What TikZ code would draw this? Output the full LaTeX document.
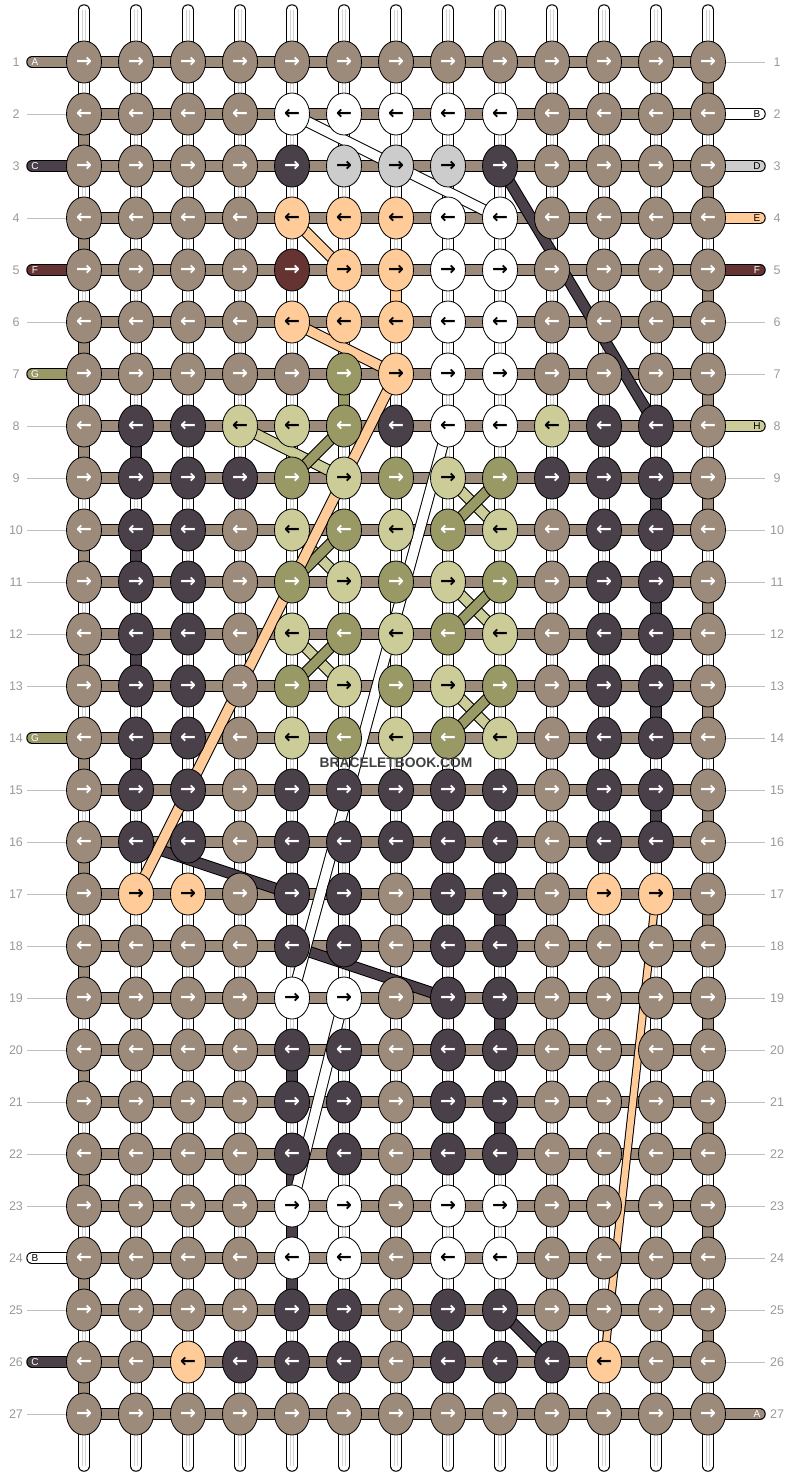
\documentclass[tikz,border=0pt]{standalone}
\usepackage{fontspec}
\setmainfont{Liberation Sans}
\newfontfamily\arrowfont{DejaVu Sans}
\usetikzlibrary{shapes.geometric}

% Thread colours
\definecolor{kb}{RGB}{156,139,122}
\definecolor{kd}{RGB}{74,64,74}
\definecolor{kg}{RGB}{204,204,204}
\definecolor{kp}{RGB}{255,204,153}
\definecolor{km}{RGB}{102,51,51}
\definecolor{ko}{RGB}{153,153,102}
\definecolor{kl}{RGB}{204,204,153}
\definecolor{rowgray}{RGB}{153,153,153}
\definecolor{wmgray}{RGB}{64,64,64}

\tikzset{
  knot/.style={ellipse, draw=black, line width=0.8pt, minimum width=35pt,
    minimum height=42pt, inner sep=0pt, font=\arrowfont\bfseries\fontsize{19}{19}\selectfont},
  knot-b/.style={knot, fill=kb, text=white},
  knot-d/.style={knot, fill=kd, text=white},
  knot-w/.style={knot, fill=white, text=black},
  knot-g/.style={knot, fill=kg, text=black},
  knot-p/.style={knot, fill=kp, text=black},
  knot-m/.style={knot, fill=km, text=white},
  knot-o/.style={knot, fill=ko, text=white},
  knot-l/.style={knot, fill=kl, text=black},
  strand/.style={draw=black, line width=1pt, double distance=9.5pt},
  pipe/.style={draw=black, line width=1pt, double=white, double distance=9.5pt, line cap=round},
  pipecore/.style={draw=gray!35, line width=0.8pt, double=white, double distance=2.4pt},
  rowline/.style={draw=gray!50, line width=0.8pt},
  rownum/.style={text=rowgray, font=\fontsize{12.5}{13}\selectfont},
  lettertag/.style={font=\fontsize{10}{10}\selectfont, inner sep=0pt}
}

\begin{document}
\begin{tikzpicture}[x=1pt, y=-1pt]
    \useasboundingbox (0,0) rectangle (792,1476);

    % Define grid points
    \foreach \r in {1,...,27}
      \foreach \c in {1,...,13}
        \coordinate (p-\r-\c) at ({32+52*\c},{10+52*\r});

    % Draw vertical strings
    \foreach \c in {1,...,13} {
      \coordinate (t-\c) at ({32+52*\c},10);
      \coordinate (u-\c) at ({32+52*\c},1466);
      \draw[pipe] (t-\c) -- (u-\c);
      \draw[pipecore] (t-\c) -- (u-\c);
    }

    % Row numbers and guide lines
    \foreach \r in {1,...,27} {
      \coordinate (lt-\r) at (27,{10+52*\r});
      \coordinate (rt-\r) at (765,{10+52*\r});
      \draw[rowline] (lt-\r) -- (p-\r-1);
      \draw[rowline] (p-\r-13) -- (rt-\r);
      \node[rownum] (ln-\r) at (16,{10+52*\r}) {\r};
      \node[rownum] (rn-\r) at (777,{10+52*\r}) {\r};
    }

    % Background string turning at the edges
    \foreach \r in {2,4,...,26} {
      \pgfmathtruncatemacro\n{\r+1}
      \draw[strand, double=kb] (p-\r-1) -- (p-\n-1);
    }
    \foreach \r in {1,3,...,25} {
      \pgfmathtruncatemacro\n{\r+1}
      \draw[strand, double=kb] (p-\r-13) -- (p-\n-13);
    }

    % Coloured vertical runs
    \foreach \c/\r/\col in {2/8/kd, 2/10/kd, 2/12/kd, 2/14/kd,
        12/9/kd, 12/11/kd, 12/13/kd, 12/15/kd,
        5/20/kd, 5/22/kd, 5/23/kd, 5/24/kd,
        9/17/kd, 9/19/kd, 9/21/kd, 6/7/ko, 7/5/kp} {
      \pgfmathtruncatemacro\n{\r+1}
      \draw[strand, double=\col] (p-\r-\c) -- (p-\n-\c);
    }

    % Rows
    \foreach \r in {1,...,27}
      \draw[strand, double=kb] (p-\r-1) -- (p-\r-13);

    % Loose ends, left
    \foreach \r/\col/\lab/\ink in {1/kb/A/white, 3/kd/C/white, 5/km/F/white,
        7/ko/G/white, 14/ko/G/white, 24/white/B/black, 26/kd/C/white} {
      \coordinate (le-\r) at (32,{10+52*\r});
      \draw[strand, double=\col, line cap=round] (le-\r) -- (p-\r-1);
      \node[lettertag, text=\ink] (la-\r) at (35,{10+52*\r}) {\lab};
    }

    % Loose ends, right
    \foreach \r/\col/\lab/\ink in {2/white/B/black, 3/kg/D/black, 4/kp/E/black,
        5/km/F/white, 8/kl/H/black, 27/kb/A/white} {
      \coordinate (re-\r) at (760,{10+52*\r});
      \draw[strand, double=\col, line cap=round] (p-\r-13) -- (re-\r);
      \node[lettertag, text=\ink] (ra-\r) at (757,{10+52*\r}) {\lab};
    }

    % Diagonal runs
    \foreach \a/\b in {p-8-4/p-9-6, p-10-5/p-11-6, p-12-5/p-13-6,
        p-9-8/p-10-9, p-11-8/p-12-9, p-13-8/p-14-9}
      \draw[strand, double=kl] (\a) -- (\b);
    \foreach \a/\b in {p-8-6/p-9-5, p-10-6/p-11-5, p-12-6/p-13-5,
        p-9-9/p-10-8, p-11-9/p-12-8, p-13-9/p-14-8}
      \draw[strand, double=ko] (\a) -- (\b);
    \foreach \a/\b in {p-3-9/p-8-12, p-16-2/p-17-5, p-18-5/p-19-8, p-25-9/p-26-10}
      \draw[strand, double=kd] (\a) -- (\b);
    \foreach \a/\b in {p-4-5/p-5-6, p-6-5/p-7-7, p-7-7/p-17-2}
      \draw[strand, double=kp] (\a) -- (\b);
    \draw[strand, double=kp, double distance=6.5pt] (p-17-12) -- (p-26-11);
    \draw[strand, double=white] (p-2-5) -- (p-3-7) -- (p-4-9);
    \draw[strand, double=white] (p-8-8) -- (p-19-5);
    \draw[strand, double=white] (p-19-6) -- (p-23-5);

    % Knots
    \foreach \r/\knots in {
        1/{b,b,b,b,b,b,b,b,b,b,b,b,b},
        2/{b,b,b,b,w,w,w,w,w,b,b,b,b},
        3/{b,b,b,b,d,g,g,g,d,b,b,b,b},
        4/{b,b,b,b,p,p,p,w,w,b,b,b,b},
        5/{b,b,b,b,m,p,p,w,w,b,b,b,b},
        6/{b,b,b,b,p,p,p,w,w,b,b,b,b},
        7/{b,b,b,b,b,o,p,w,w,b,b,b,b},
        8/{b,d,d,l,l,o,d,w,w,l,d,d,b},
        9/{b,d,d,d,o,l,o,l,o,d,d,d,b},
        10/{b,d,d,b,l,o,l,o,l,b,d,d,b},
        11/{b,d,d,b,o,l,o,l,o,b,d,d,b},
        12/{b,d,d,b,l,o,l,o,l,b,d,d,b},
        13/{b,d,d,b,o,l,o,l,o,b,d,d,b},
        14/{b,d,d,b,l,o,l,o,l,b,d,d,b},
        15/{b,d,d,b,d,d,d,d,d,b,d,d,b},
        16/{b,d,d,b,d,d,d,d,d,b,d,d,b},
        17/{b,p,p,b,d,d,b,d,d,b,p,p,b},
        18/{b,b,b,b,d,d,b,d,d,b,b,b,b},
        19/{b,b,b,b,w,w,b,d,d,b,b,b,b},
        20/{b,b,b,b,d,d,b,d,d,b,b,b,b},
        21/{b,b,b,b,d,d,b,d,d,b,b,b,b},
        22/{b,b,b,b,d,d,b,d,d,b,b,b,b},
        23/{b,b,b,b,w,w,b,w,w,b,b,b,b},
        24/{b,b,b,b,w,w,b,w,w,b,b,b,b},
        25/{b,b,b,b,d,d,b,d,d,b,b,b,b},
        26/{b,b,p,d,d,d,b,d,d,d,p,b,b},
        27/{b,b,b,b,b,b,b,b,b,b,b,b,b}} {
      \foreach \k [count=\c] in \knots
        \node[knot-\k] (k-\r-\c) at (p-\r-\c) {\ifodd\r →\else ←\fi};
    }

    % Watermark
    \node[text=wmgray, font=\bfseries\fontsize{13.8}{14}\selectfont] (mark) at (396,763) {BRACELETBOOK.COM};
\end{tikzpicture}
\end{document}
